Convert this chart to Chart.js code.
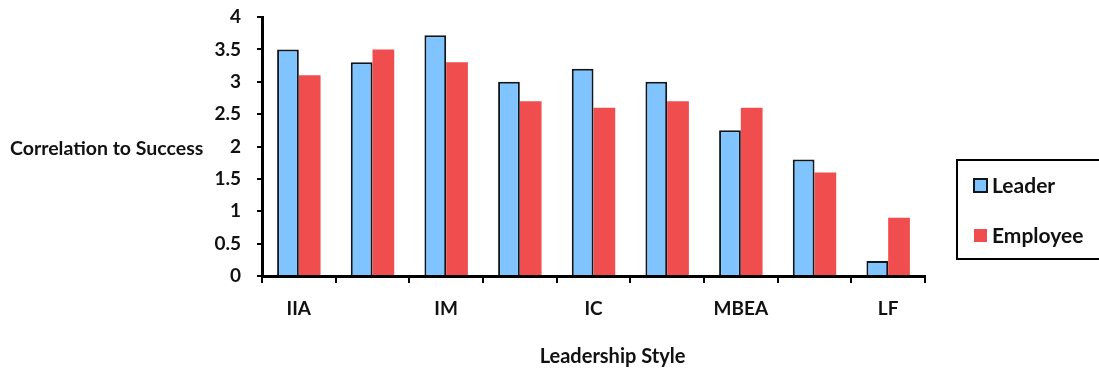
<!DOCTYPE html>
<html>
<head>
<meta charset="utf-8">
<script src="https://cdn.jsdelivr.net/npm/chart.js@4/dist/chart.umd.min.js"></script>
<style>
  html, body { margin: 0; padding: 0; background: #fff; }
  canvas { display: block; }
</style>
</head>
<body>
<canvas id="chart" width="1099" height="369"></canvas>
<script>
// Leadership styles (Full Range Leadership factors)
const categories = ['IIA', 'IIB', 'IM', 'IS', 'IC', 'CR', 'MBEA', 'MBEP', 'LF'];
// Styles whose names are printed under the axis
const shownLabels = ['IIA', 'IM', 'IC', 'MBEA', 'LF'];
const leaderValues = [3.5, 3.3, 3.72, 3.0, 3.2, 3.0, 2.25, 1.8, 0.23];
const employeeValues = [3.1, 3.5, 3.3, 2.7, 2.6, 2.7, 2.6, 1.6, 0.9];
const yTicks = [0, 0.5, 1, 1.5, 2, 2.5, 3, 3.5, 4];
const yTitle = 'Correlation to Success';
const xTitle = 'Leadership Style';

const FONT = 'Lato, "Open Sans", sans-serif';

const decorations = {
  id: 'decorations',
  afterDraw(chart) {
    const { ctx, chartArea } = chart;
    ctx.save();
    ctx.fillStyle = '#111';
    ctx.font = 'bold 19.5px ' + FONT;
    ctx.textBaseline = 'middle';
    ctx.textAlign = 'left';
    ctx.fillText(yTitle, 10, 149);
    ctx.textAlign = 'center';
    ctx.font = 'bold 20px ' + FONT;
    ctx.fillText(xTitle, (chartArea.left + chartArea.right) / 2 + 19, 357);

    // legend box
    const bx = chartArea.right + 32, by = 160, bh = 99;
    ctx.strokeStyle = '#000';
    ctx.lineWidth = 2;
    ctx.strokeRect(bx, by, 1099 - bx + 5, bh);
    const items = chart.data.datasets;
    const rows = [185, 235];
    ctx.font = 'bold 21px ' + FONT;
    ctx.textAlign = 'left';
    items.forEach((ds, i) => {
      const y = rows[i];
      ctx.fillStyle = ds.backgroundColor;
      ctx.fillRect(bx + 17, y - 6, 13, 13);
      if (ds.borderWidth) {
        ctx.strokeStyle = ds.borderColor;
        ctx.lineWidth = 2;
        ctx.strokeRect(bx + 17, y - 6, 13, 13);
      }
      ctx.fillStyle = '#111';
      ctx.fillText(ds.label, bx + 35, y + 1);
    });
    ctx.restore();
  }
};

new Chart(document.getElementById('chart'), {
  type: 'bar',
  data: {
    labels: categories,
    datasets: [
      {
        label: 'Leader',
        data: leaderValues,
        backgroundColor: '#80C4FF',
        borderColor: '#10161e',
        borderWidth: 2,
        borderSkipped: 'start',
        categoryPercentage: 0.59,
        barPercentage: 1.0
      },
      {
        label: 'Employee',
        data: employeeValues,
        backgroundColor: '#F04E4E',
        borderWidth: 0,
        categoryPercentage: 0.59,
        barPercentage: 1.0
      }
    ]
  },
  options: {
    responsive: false,
    animation: false,
    layout: { padding: { left: 0, right: 174, top: 17, bottom: 0 } },
    plugins: {
      legend: { display: false },
      tooltip: { enabled: false }
    },
    scales: {
      x: {
        grid: {
          offset: true,
          drawOnChartArea: false,
          drawTicks: true,
          tickLength: 7,
          color: '#000',
          lineWidth: 2
        },
        border: { color: '#000', width: 3 },
        ticks: {
          autoSkip: false,
          maxRotation: 0,
          padding: 14,
          color: '#111',
          font: { family: FONT, size: 19, weight: 'bold' },
          callback(value) {
            const name = categories[value];
            return shownLabels.includes(name) ? name : '';
          }
        },
        afterFit(scale) {
          scale.height = 93;
          scale.paddingLeft = 0;
          scale.paddingRight = 0;
        }
      },
      y: {
        min: yTicks[0],
        max: yTicks[yTicks.length - 1],
        afterBuildTicks(scale) {
          scale.ticks = yTicks.map(v => ({ value: v }));
        },
        grid: {
          drawOnChartArea: false,
          drawTicks: true,
          tickLength: 5,
          color: '#000',
          lineWidth: 2
        },
        border: { color: '#000', width: 3 },
        ticks: {
          padding: 16,
          color: '#111',
          font: { family: FONT, size: 19, weight: 'bold' },
          callback(value) { return String(value); }
        },
        afterFit(scale) {
          scale.width = 262;
          scale.paddingTop = 0;
          scale.paddingBottom = 0;
        }
      }
    }
  },
  plugins: [decorations]
});
</script>
</body>
</html>
